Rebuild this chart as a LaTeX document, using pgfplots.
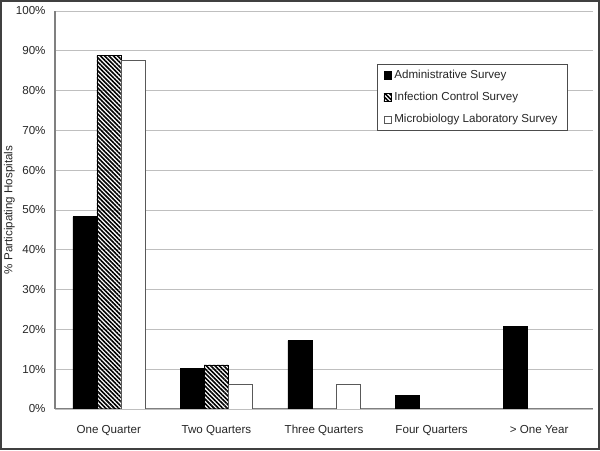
\documentclass[border=0pt]{standalone}
\usepackage{fontspec}
\setmainfont{Liberation Sans}
\usepackage{pgfplots}
\pgfplotsset{compat=1.18}
\usetikzlibrary{patterns.meta}
\begin{document}
\fontsize{8.7}{10.4}\selectfont
\begin{tikzpicture}
\useasboundingbox (0,0) rectangle (450pt,337.5pt);
\begin{axis}[
  at={(41.25pt,30.75pt)}, anchor=south west,
  width=403.5pt, height=298.5pt, scale only axis,
  ybar=0pt, bar width=18pt,
  xmin=-0.5, xmax=4.5, ymin=0, ymax=100,
  xtick={0,1,2,3,4},
  xticklabels={One Quarter, Two Quarters, Three Quarters, Four Quarters, {> One Year}},
  ytick={0,10,...,100},
  yticklabel={\pgfmathprintnumber{\tick}\%},
  /pgf/number format/assume math mode=true,
  ymajorgrids, grid style={black!25, line width=0.7pt},
  axis x line*=bottom, axis y line*=left,
  axis line style={black!50, line width=0.75pt},
  major tick length=0pt,
  tick label style={font=\fontsize{8.7}{10.4}\selectfont, text=black!85},
  yticklabel style={xshift=-4pt},
  xticklabel style={yshift=-8pt, text height=1.6ex, text depth=0.3ex},
  ylabel={\% Participating Hospitals},
  every axis y label/.style={at={([xshift=-27pt]axis description cs:0,0.5)}, rotate=90, anchor=south, font=\fontsize{8.7}{10.4}\selectfont, text=black!85},
  legend style={at={(axis description cs:0.598,0.867)}, anchor=north west, draw=black!70, fill=white, font=\fontsize{8.7}{10.4}\selectfont, row sep=5pt, inner xsep=5pt, inner ysep=2.5pt, text=black!85},
  legend cell align=left,
  mylegend/.style={legend image code/.code={\draw[##1] (0pt,-2.8pt) rectangle (5.6pt,2.8pt);}},
]
\addplot[fill=black, draw=black, mylegend] coordinates {(0,48.3) (1,10.3) (2,17.2) (3,3.4) (4,20.7)};
\addplot[pattern={Lines[angle=-45,distance=2.3pt,line width=1.2pt]}, pattern color=black, draw=black, mylegend] coordinates {(0,88.9) (1,11.1)};
\addplot[fill=white, draw=black!65, mylegend] coordinates {(0,87.5) (1,6.25) (2,6.25)};
\legend{Administrative Survey, Infection Control Survey, Microbiology Laboratory Survey}
\end{axis}
\draw[black!75, line width=1.2pt] (0.6pt,0.6pt) rectangle (449.4pt,336.9pt);
\end{tikzpicture}
\end{document}
